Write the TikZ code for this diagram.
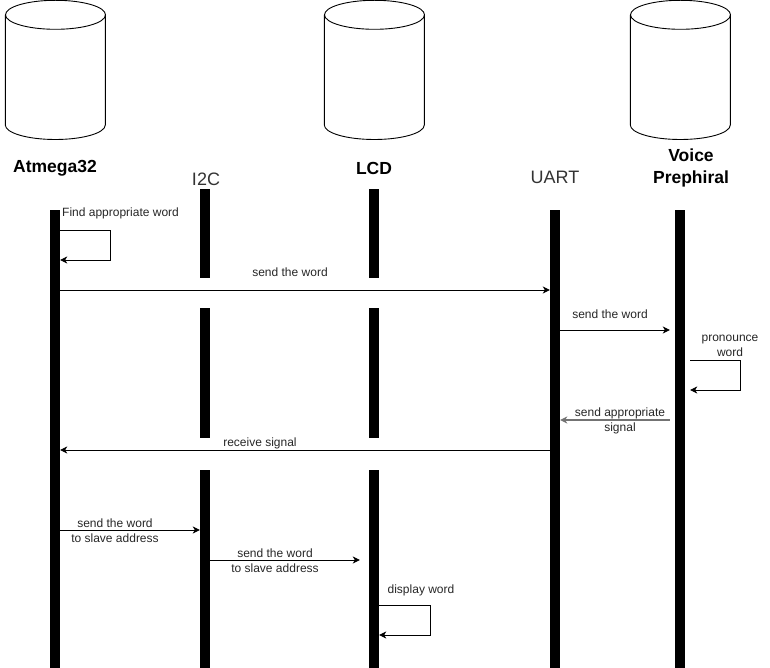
\documentclass[tikz,border=0pt]{standalone}
\usepackage{fontspec}
\setmainfont{Liberation Sans}
\usetikzlibrary{arrows.meta}

\begin{document}
\begin{tikzpicture}[x=1pt,y=-1pt,>={Stealth[length=7pt,width=7pt,inset=2pt]},
    head node/.style={minimum width=101pt,minimum height=140pt,inner sep=0pt},
    bar/.style={fill=black,minimum width=10pt,inner sep=0pt},
    title/.style={font=\fontsize{17.5}{22}\selectfont\bfseries,align=center},
    port/.style={font=\fontsize{18}{20}\selectfont,text=black!80},
    msg/.style={font=\fontsize{12}{15}\selectfont,text=black!85,align=center,inner sep=0pt},
    call/.style={->,line width=0.9pt}]
    \useasboundingbox (0,0) rectangle (770,668);

    % participants
    \foreach \name/\px in {atmH/55.5,lcdH/374.5,voiceH/680.5} {
      \node[head node] (\name) at (\px,70) {};
      \draw[line width=0.9pt] (\name.north) ++(0,15) ellipse [x radius=50, y radius=14.5];
      \draw[line width=0.9pt] (\name.west) ++(0.5,-55) -- ++(0,110)
        arc [start angle=180, end angle=0, x radius=50, y radius=14.5] -- ++(0,-110);
    }
    \node[title] (atmT) at (55,168) {Atmega32};
    \node[port] (i2cT) at (206,179) {I2C};
    \node[title] (lcdT) at (374,168) {LCD};
    \node[port] (uartT) at (555,177) {UART};
    \node[title] (voiceT) at (691,168) {Voice\\Prephiral};

    % life lines
    \node[bar,minimum height=458pt] (atm) at (55,439) {};
    \node[bar,minimum height=89pt] (i2cA) at (205,233.5) {};
    \node[bar,minimum height=130pt] (i2cB) at (205,373) {};
    \node[bar,minimum height=198pt] (i2cC) at (205,569) {};
    \node[bar,minimum height=89pt] (lcdA) at (374,233.5) {};
    \node[bar,minimum height=130pt] (lcdB) at (374,373) {};
    \node[bar,minimum height=198pt] (lcdC) at (374,569) {};
    \node[bar,minimum height=458pt] (uart) at (555,439) {};
    \node[bar,minimum height=458pt] (voice) at (680,439) {};

    % messages
    \draw[call] (atm.east |- 0,230) -- ++(50,0) -- ++(0,30) -- (atm.east |- 0,260);
    \node[msg,anchor=west] (find) at (62,213) {Find appropriate word};

    \draw[call] (atm.east |- 0,290) -- (uart.west |- 0,290);
    \node[msg] (send1) at (290,272) {send the word};

    \draw[call] (uart.east |- 0,330) -- ([xshift=-5pt]voice.west |- 0,330);
    \node[msg] (send2) at (610,314) {send the word};

    \draw[call] ([xshift=5pt]voice.east |- 0,360) -- ++(50,0) -- ++(0,30) -- ([xshift=5pt]voice.east |- 0,390);
    \node[msg] (speak) at (730,345.5) {pronounce\\word};

    \draw[call,draw=black!55,line width=1.3pt] ([xshift=-5pt]voice.west |- 0,420) -- (uart.east |- 0,420);
    \node[msg] (reply) at (620,420.5) {send appropriate\\signal};

    \draw[call] (uart.west |- 0,450) -- (atm.east |- 0,450);
    \node[msg] (recv) at (260,443) {receive signal};

    \draw[call] (atm.east |- 0,530) -- (i2cC.west |- 0,530);
    \node[msg] (slave1) at (115,530.5) {send the word\\to slave address};

    \draw[call] (i2cC.east |- 0,560) -- ([xshift=-9pt]lcdC.west |- 0,560);
    \node[msg] (slave2) at (275,560.5) {send the word\\to slave address};

    \draw[call] (lcdC.east |- 0,605) -- ++(51,0) -- ++(0,30) -- (lcdC.east |- 0,635);
    \node[msg] (show) at (421,590) {display word};
\end{tikzpicture}
\end{document}
